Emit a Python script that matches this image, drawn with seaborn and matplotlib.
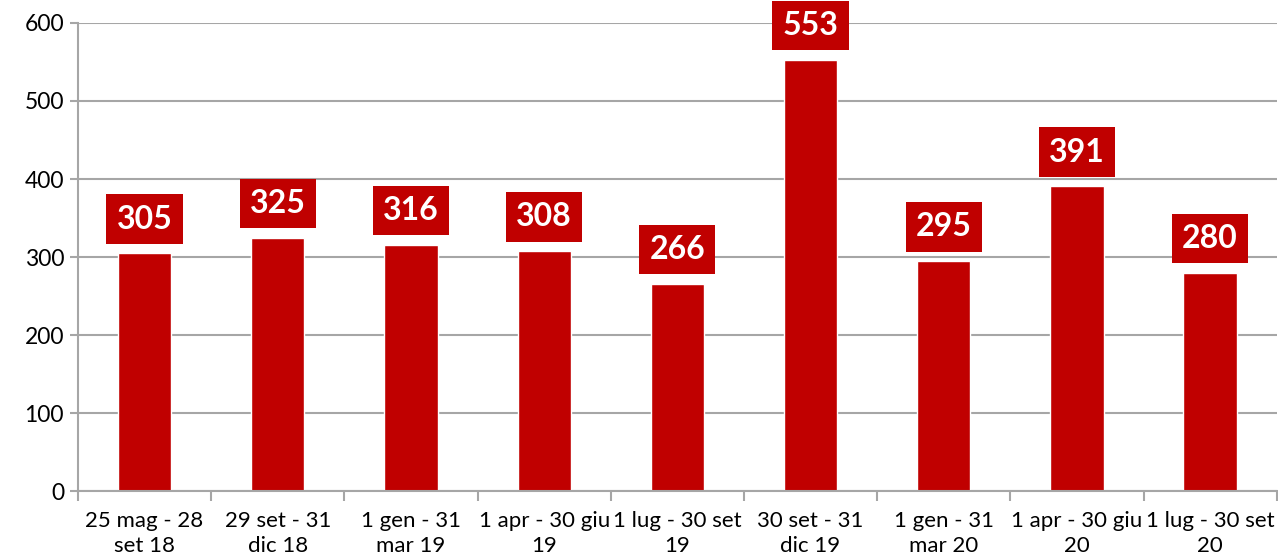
import matplotlib
matplotlib.use("Agg")
import matplotlib.pyplot as plt
import seaborn as sns
import pandas as pd
import numpy as np

periods = ["25 mag - 28\nset 18", "29 set - 31\ndic 18", "1 gen - 31\nmar 19",
           "1 apr - 30 giu\n19", "1 lug - 30 set\n19", "30 set - 31\ndic 19",
           "1 gen - 31\nmar 20", "1 apr - 30 giu\n20", "1 lug - 30 set\n20"]
counts = [305, 325, 316, 308, 266, 553, 295, 391, 280]
yticks = [0, 100, 200, 300, 400, 500, 600]

red = "#C00000"
grey = "#A6A6A6"

sns.set_theme(style="white")
plt.rcParams["font.family"] = ["Lato", "DejaVu Sans"]

df = pd.DataFrame({"period": periods, "count": counts})

fig = plt.figure(figsize=(12.78, 5.6), dpi=100)
ax = fig.add_axes([0.061, 0.123, 0.938, 0.836])

sns.barplot(data=df, x="period", y="count", color=red, saturation=1,
            width=0.4, ax=ax)

ax.set_ylim(0, 600)
ax.set_xlim(-0.5, len(periods) - 0.5)
ax.set_yticks(yticks)
ax.yaxis.grid(True, color=grey, linewidth=1.5)
ax.set_axisbelow(True)
ax.set_xlabel("")
ax.set_ylabel("")

for s in ["top", "right"]:
    ax.spines[s].set_visible(False)
for s in ["left", "bottom"]:
    ax.spines[s].set_color(grey)
    ax.spines[s].set_linewidth(1.5)

ax.tick_params(axis="y", length=6, width=1.5, color=grey, labelsize=16.5,
               direction="out", left=True, pad=4)
ax.tick_params(axis="x", which="major", length=0, labelsize=16, pad=14)
ax.set_xticks(np.arange(-0.5, len(periods) + 0.5, 1), minor=True)
ax.tick_params(axis="x", which="minor", length=7, width=1.5, color=grey,
               direction="out", bottom=True)
for lbl in ax.get_xticklabels() + ax.get_yticklabels():
    lbl.set_color("black")
for lbl in ax.get_xticklabels():
    lbl.set_linespacing(1.35)

for i, v in enumerate(counts):
    ax.annotate(str(v), xy=(i, v), xytext=(0, 14), textcoords="offset points",
                ha="center", va="bottom", color="white", fontsize=23,
                fontweight="bold", annotation_clip=False,
                bbox=dict(boxstyle="square,pad=0.32", fc=red, ec="none"))

fig.savefig("out.png", dpi=100)
